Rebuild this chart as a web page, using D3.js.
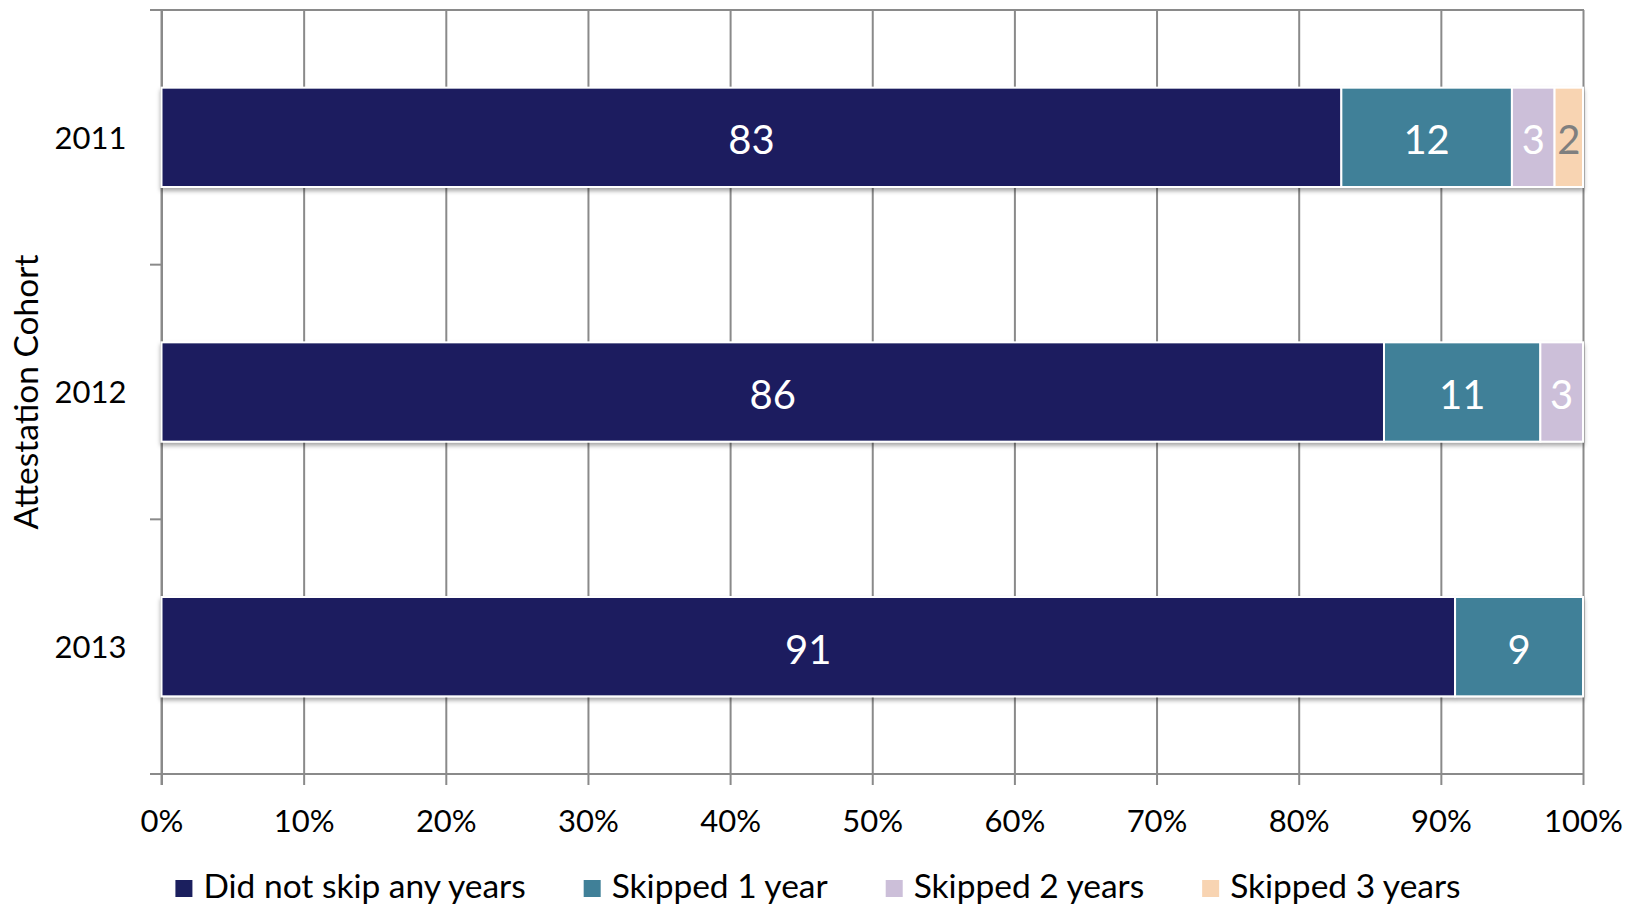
<!DOCTYPE html>
<html>
<head>
<meta charset="utf-8">
<script src="https://cdn.jsdelivr.net/npm/d3@7"></script>
<style>
  html, body { margin: 0; padding: 0; background: #fff; }
  svg { display: block; }
  text { font-family: Lato, "Open Sans", sans-serif; }
</style>
</head>
<body>
<svg id="chart" width="1627" height="905"></svg>
<script>
// Share of each attestation cohort by number of skipped years (%)
const categories = ["2011", "2012", "2013"];
const seriesNames = ["Did not skip any years", "Skipped 1 year", "Skipped 2 years", "Skipped 3 years"];
const didNotSkip = [83, 86, 91];
const skipped1Year = [12, 11, 9];
const skipped2Years = [3, 3, 0];
const skipped3Years = [2, 0, 0];
const xTickValues = [0, 10, 20, 30, 40, 50, 60, 70, 80, 90, 100];
const seriesColors = ["#1b1f5e", "#408098", "#ccbfd9", "#f8d4b2"];
const labelColors = ["#ffffff", "#ffffff", "#ffffff", "#7f7f7f"];

const rows = categories.map((c, i) => ({
  cohort: c,
  [seriesNames[0]]: didNotSkip[i],
  [seriesNames[1]]: skipped1Year[i],
  [seriesNames[2]]: skipped2Years[i],
  [seriesNames[3]]: skipped3Years[i]
}));

const svg = d3.select("#chart");
const plot = { left: 161.5, right: 1583, top: 10, bottom: 774 };
const gridColor = "#8a8a8a";

const x = d3.scaleLinear().domain([0, 100]).range([plot.left, plot.right]);
const y = d3.scaleBand().domain(categories)
  .range([plot.top, plot.bottom])
  .paddingInner(0.61).paddingOuter(0.305);

// soft shadow under the bars
const defs = svg.append("defs");
const f = defs.append("filter").attr("id", "barShadow")
  .attr("x", "-5%").attr("y", "-10%").attr("width", "110%").attr("height", "130%");
f.append("feDropShadow").attr("dx", 0).attr("dy", 3).attr("stdDeviation", 2)
  .attr("flood-color", "#000").attr("flood-opacity", 0.35);

// vertical gridlines (continuing below the axis as tick marks)
svg.append("g")
  .attr("transform", `translate(0,${plot.bottom + 11})`)
  .call(d3.axisBottom(x).tickValues(xTickValues).tickFormat("")
    .tickSize(plot.bottom + 11 - plot.top).tickSizeOuter(0))
  .call(g => g.select(".domain").remove())
  .call(g => g.selectAll(".tick line")
    .attr("y2", -(plot.bottom + 11 - plot.top))
    .attr("stroke", gridColor).attr("stroke-width", 2));

// top boundary, bottom axis line and left axis line
svg.append("line").attr("x1", 150).attr("x2", plot.right + 1)
  .attr("y1", plot.top).attr("y2", plot.top)
  .attr("stroke", gridColor).attr("stroke-width", 2);
svg.append("line").attr("x1", 150).attr("x2", plot.right + 1)
  .attr("y1", plot.bottom).attr("y2", plot.bottom)
  .attr("stroke", gridColor).attr("stroke-width", 2);
svg.append("line").attr("x1", plot.left).attr("x2", plot.left)
  .attr("y1", plot.top).attr("y2", plot.bottom + 11)
  .attr("stroke", gridColor).attr("stroke-width", 2);

// category boundary ticks on the left axis
const boundaries = categories.slice(1).map(c => y(c) - y.step() * y.paddingInner() / 2);
svg.append("g").selectAll("line").data(boundaries).join("line")
  .attr("x1", 150).attr("x2", plot.left)
  .attr("y1", d => d).attr("y2", d => d)
  .attr("stroke", gridColor).attr("stroke-width", 2);

// x tick labels
svg.append("g")
  .attr("transform", `translate(0,${plot.bottom})`)
  .call(d3.axisBottom(x).tickValues(xTickValues).tickFormat(d => d + "%").tickSize(0))
  .call(g => g.select(".domain").remove())
  .call(g => g.selectAll("text")
    .attr("y", 58).attr("dy", 0)
    .attr("fill", "#000").style("font-size", "31px").style("font-family", "Lato, sans-serif"));

// cohort labels
svg.append("g")
  .attr("transform", `translate(${plot.left},0)`)
  .call(d3.axisLeft(y).tickSize(0).tickPadding(35))
  .call(g => g.select(".domain").remove())
  .call(g => g.selectAll("text")
    .attr("fill", "#000").attr("dy", "0.36em")
    .style("font-size", "31px").style("font-family", "Lato, sans-serif"));

// axis title
svg.append("text")
  .attr("transform", `translate(38,${(plot.top + plot.bottom) / 2}) rotate(-90)`)
  .attr("text-anchor", "middle")
  .style("font-size", "33.5px").attr("fill", "#000")
  .text("Attestation Cohort");

// stacked bars
const stacked = d3.stack().keys(seriesNames)(rows);
const layers = svg.append("g").attr("filter", "url(#barShadow)")
  .selectAll("g").data(stacked).join("g")
  .attr("fill", (d, i) => seriesColors[i]);

layers.selectAll("rect")
  .data(d => d.filter(s => s[1] - s[0] > 0))
  .join("rect")
  .attr("x", d => x(d[0]))
  .attr("width", d => x(d[1]) - x(d[0]))
  .attr("y", d => y(d.data.cohort))
  .attr("height", y.bandwidth())
  .attr("stroke", "#fff").attr("stroke-width", 2);

// value labels
const labels = svg.append("g");
stacked.forEach((layer, i) => {
  labels.selectAll(null)
    .data(layer.filter(s => s[1] - s[0] > 0))
    .join("text")
    .attr("x", d => x((d[0] + d[1]) / 2))
    .attr("y", d => y(d.data.cohort) + y.bandwidth() / 2 + 17)
    .attr("text-anchor", "middle")
    .attr("fill", labelColors[i])
    .style("font-size", "40px")
    .text(d => d[1] - d[0]);
});

// legend
const legend = svg.append("g");
const items = legend.selectAll("g").data(seriesNames).join("g");
items.append("rect")
  .attr("width", 17).attr("height", 17)
  .attr("y", 880)
  .attr("fill", (d, i) => seriesColors[i]);
items.append("text")
  .attr("x", 28).attr("y", 898)
  .style("font-size", "33.5px").attr("fill", "#000")
  .text(d => d);
let cursor = 0;
const offsets = [];
items.each(function () {
  offsets.push(cursor);
  const w = this.querySelector("text").getComputedTextLength();
  cursor += 28 + w + 58;
});
const total = cursor - 58;
const startX = 818 - total / 2;
items.attr("transform", (d, i) => `translate(${startX + offsets[i]},0)`);
</script>
</body>
</html>
